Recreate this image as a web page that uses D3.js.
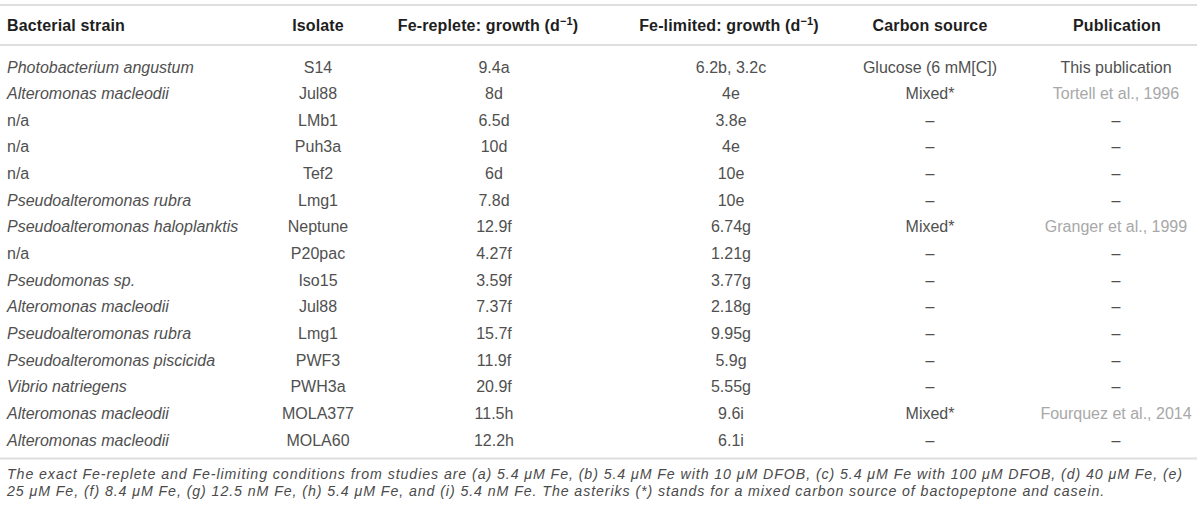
<!DOCTYPE html>
<html>
<head>
<meta charset="utf-8">
<script src="https://cdn.jsdelivr.net/npm/d3@7/dist/d3.min.js"></script>
<style>
  body { margin: 0; background: #fff; }
  svg { display: block; }
</style>
</head>
<body>
<script>
// table content
const headers = ['Bacterial strain', 'Isolate', 'Fe-replete: growth (d', 'Fe-limited: growth (d', 'Carbon source', 'Publication'];
const strains = ['Photobacterium angustum', 'Alteromonas macleodii', 'n/a', 'n/a', 'n/a', 'Pseudoalteromonas rubra',
                 'Pseudoalteromonas haloplanktis', 'n/a', 'Pseudomonas sp.', 'Alteromonas macleodii',
                 'Pseudoalteromonas rubra', 'Pseudoalteromonas piscicida', 'Vibrio natriegens',
                 'Alteromonas macleodii', 'Alteromonas macleodii'];
const isolates = ['S14', 'Jul88', 'LMb1', 'Puh3a', 'Tef2', 'Lmg1', 'Neptune', 'P20pac', 'Iso15', 'Jul88',
                  'Lmg1', 'PWF3', 'PWH3a', 'MOLA377', 'MOLA60'];
const feReplete = ['9.4a', '8d', '6.5d', '10d', '6d', '7.8d', '12.9f', '4.27f', '3.59f', '7.37f',
                   '15.7f', '11.9f', '20.9f', '11.5h', '12.2h'];
const feLimited = ['6.2b, 3.2c', '4e', '3.8e', '4e', '10e', '10e', '6.74g', '1.21g', '3.77g', '2.18g',
                   '9.95g', '5.9g', '5.55g', '9.6i', '6.1i'];
const carbon = ['Glucose (6 mM[C])', 'Mixed*', '–', '–', '–', '–', 'Mixed*', '–', '–', '–',
                '–', '–', '–', 'Mixed*', '–'];
const publication = ['This publication', 'Tortell et al., 1996', '–', '–', '–', '–', 'Granger et al., 1999',
                     '–', '–', '–', '–', '–', '–', 'Fourquez et al., 2014', '–'];
const citedRefs = ['Tortell et al., 1996', 'Granger et al., 1999', 'Fourquez et al., 2014'];
const footnote = [
  'The exact Fe-replete and Fe-limiting conditions from studies are (a) 5.4 \u03bcM Fe, (b) 5.4 \u03bcM Fe with 10 \u03bcM DFOB, (c) 5.4 \u03bcM Fe with 100 \u03bcM DFOB, (d) 40 \u03bcM Fe, (e)',
  '25 \u03bcM Fe, (f) 8.4 \u03bcM Fe, (g) 12.5 nM Fe, (h) 5.4 \u03bcM Fe, and (i) 5.4 nM Fe. The asteriks (*) stands for a mixed carbon source of bactopeptone and casein.'
];

const width = 1200;
const height = 512;
const font = "'Liberation Sans', Arial, Helvetica, sans-serif";

const svg = d3.select('body')
              .append('svg')
              .attr('width', width)
              .attr('height', height);

// column layout: header x and body x per column
const columns = [
  {head: 7, body: 7, anchor: 'start', values: strains},
  {head: 318, body: 318, anchor: 'middle', values: isolates},
  {head: 488, body: 494, anchor: 'middle', values: feReplete},
  {head: 729, body: 731, anchor: 'middle', values: feLimited},
  {head: 930, body: 930, anchor: 'middle', values: carbon},
  {head: 1117, body: 1116, anchor: 'middle', values: publication}
];

// row baselines
const yRow = d3.scaleLinear()
               .domain([0, strains.length - 1])
               .range([72.5, 445.8]);

// horizontal rules
const rules = [5, 45, 458.5];
svg.selectAll('line.rule')
   .data(rules)
   .enter()
   .append('line')
   .attr('class', 'rule')
   .attr('x1', 0)
   .attr('x2', 1197)
   .attr('y1', d => d)
   .attr('y2', d => d)
   .attr('stroke', '#dedede')
   .attr('stroke-width', 2);

// header row
const head = svg.append('g')
                .style('font-family', font)
                .style('font-weight', 'bold')
                .style('font-size', '16px')
                .style('letter-spacing', '0.15px')
                .attr('fill', '#1e1e1e');

headers.forEach((h, i) => {
  const col = columns[i];
  const t = head.append('text')
                .attr('x', col.head)
                .attr('y', 31)
                .attr('text-anchor', col.anchor)
                .text(h);
  if (i === 2 || i === 3) {
    t.append('tspan').attr('dy', -6).style('font-size', '11px').text('\u22121');
    t.append('tspan').attr('dy', 6).text(')');
  }
});

// body cells
const bodyG = svg.append('g')
                 .style('font-family', font)
                 .style('font-size', '16px');

columns.forEach((col, ci) => {
  bodyG.selectAll('text.c' + ci)
       .data(col.values)
       .enter()
       .append('text')
       .attr('class', 'c' + ci)
       .attr('x', col.body)
       .attr('y', (d, i) => yRow(i))
       .attr('text-anchor', col.anchor)
       .style('font-style', d => (ci === 0 && d !== 'n/a') ? 'italic' : 'normal')
       .attr('fill', d => citedRefs.includes(d) ? '#a8a8a8' : '#505050')
       .text(d => d);
});

// footnote, stretched to the table width
const foot = svg.append('g')
                .style('font-family', font)
                .style('font-style', 'italic')
                .style('font-size', '14.2px')
                .attr('fill', '#4a4a4a');

const f1 = foot.append('text')
               .attr('x', 7)
               .attr('y', 478.5)
               .text(footnote[0]);
const extra = (1176 - f1.node().getComputedTextLength()) / footnote[0].length;
foot.style('letter-spacing', extra + 'px');
foot.append('text')
    .attr('x', 7)
    .attr('y', 495.5)
    .text(footnote[1]);
</script>
</body>
</html>
